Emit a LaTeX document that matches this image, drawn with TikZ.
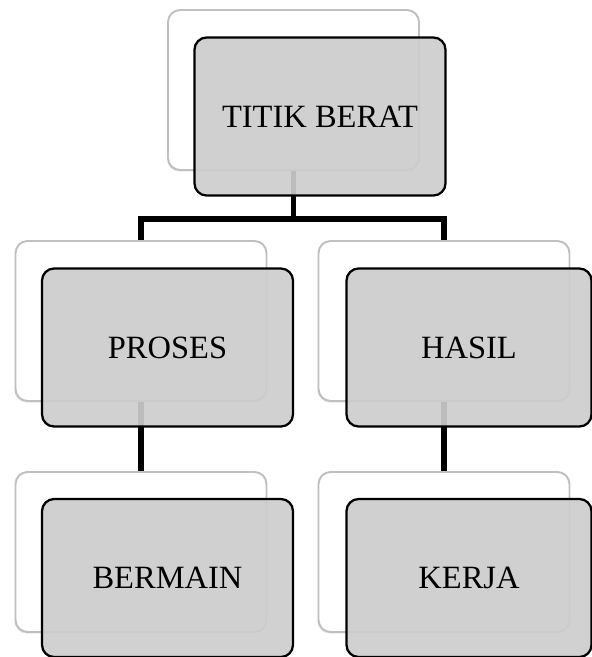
\documentclass[tikz,border=0pt]{standalone}
\usepackage{fontspec}
\setmainfont{Liberation Serif}
\usepackage{tikz}
\usetikzlibrary{shadows}
\definecolor{boxgray}{RGB}{205,205,205}
\definecolor{edgegray}{RGB}{192,192,192}

\begin{document}
\begin{tikzpicture}[
  x=0.02cm, y=-0.02cm,
  back/.style={rectangle, rounded corners=0.24cm, draw=edgegray, line width=1.1pt,
               fill=white, minimum width=5.02cm, minimum height=3.2cm,
               drop shadow={shadow xshift=-0.5pt, shadow yshift=-0.9pt, opacity=0.18}},
  front/.style={rectangle, rounded corners=0.24cm, draw=black, line width=1.3pt,
                fill=boxgray, fill opacity=0.92, text opacity=1,
                minimum width=5.02cm, minimum height=3.16cm,
                font=\fontsize{18.5}{22}\selectfont},
  link/.style={draw=black, line width=2.9pt}
]
\useasboundingbox (0,0) rectangle (592,657);

\node[back] (tb) at (293.5, 90)  {};
\node[back] (pb) at (141, 321)   {};
\node[back] (hb) at (444, 321)   {};
\node[back] (bb) at (141, 552)   {};
\node[back] (kb) at (444, 552)   {};

\coordinate (fork) at (293.5, 219);
\draw[link] (tb.south) -- (fork) -| (pb.north);
\draw[link] (fork) -| (hb.north);
\draw[link] (pb.south) -- (bb.north);
\draw[link] (hb.south) -- (kb.north);

\node[front] (tf) at (320, 116.5)   {TITIK BERAT};
\node[front] (pf) at (167.5, 347.5) {PROSES};
\node[front, minimum width=4.9cm] (hf) at (469, 347.5) {HASIL};
\node[front] (bf) at (167.5, 578)   {BERMAIN};
\node[front, minimum width=4.9cm] (kf) at (469, 578)   {KERJA};
\end{tikzpicture}
\end{document}
